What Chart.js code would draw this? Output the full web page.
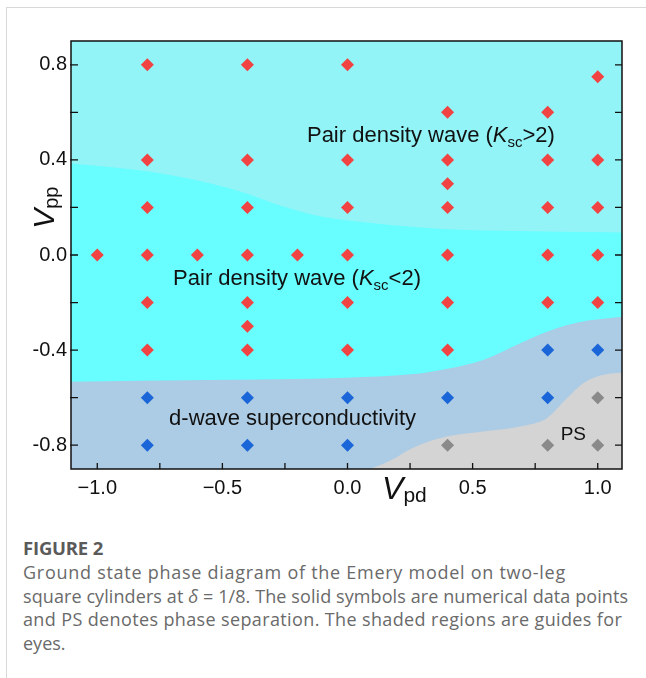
<!DOCTYPE html>
<html>
<head>
<meta charset="utf-8">
<script src="https://cdn.jsdelivr.net/npm/chart.js@4.4.1/dist/chart.umd.min.js"></script>
<style>
  html, body { margin: 0; padding: 0; background: #fff; }
  body { width: 646px; height: 678px; position: relative; overflow: hidden; }
  .frame { position: absolute; left: 6px; top: 7px; right: 0; bottom: 0; border-top: 1px solid #d8d8d8; border-left: 1px solid #d8d8d8; }
  .plot { position: absolute; left: 0; top: 0; width: 646px; height: 520px; }
  .cap { position: absolute; left: 23px; top: 534px; width: 620px; font-family: "Open Sans", Lato, sans-serif; color: #6a6a6a; }
  .cap .fig { font-size: 18.5px; font-weight: bold; color: #5a5a5a; line-height: 27px; letter-spacing: -0.2px; }
  .cap .txt { font-size: 18px; line-height: 23.5px; }
  .cap .txt span { display: inline-block; white-space: nowrap; }
</style>
</head>
<body>
<div class="frame"></div>
<div class="plot"><canvas id="phase"></canvas></div>
<div class="cap">
  <div class="fig">FIGURE 2</div>
  <div class="txt">
    <span data-w="543">Ground state phase diagram of the Emery model on two-leg</span><br>
    <span data-w="605">square cylinders at <i>δ</i> = 1/8. The solid symbols are numerical data points</span><br>
    <span data-w="599">and PS denotes phase separation. The shaded regions are guides for</span><br>
    <span>eyes.</span>
  </div>
</div>
<script>
// axis ranges and ticks
const xRange = [-1.105, 1.097];
const yRange = [-0.9, 0.9];
const xMajor = [-1.0, -0.5, 0.0, 0.5, 1.0];
const xMinor = [-0.75, -0.25, 0.25, 0.75];
const yMajor = [-0.8, -0.4, 0.0, 0.4, 0.8];
const yMinor = [-0.6, -0.2, 0.2, 0.6];

// simulated points: PDW (red), d-wave SC (blue), PS (gray)
const pdwX = [-0.8, -0.4, 0.0, 1.0, 0.4, 0.8,
  -0.8, -0.4, 0.0, 0.4, 0.8, 1.0, 0.4,
  -0.8, -0.4, 0.0, 0.4, 0.8, 1.0,
  -1.0, -0.8, -0.6, -0.4, -0.2, 0.0, 0.4, 0.8, 1.0,
  -0.8, -0.4, 0.0, 0.4, 0.8, 1.0, -0.4,
  -0.8, -0.4, 0.0, 0.4];
const pdwY = [0.8, 0.8, 0.8, 0.75, 0.6, 0.6,
  0.4, 0.4, 0.4, 0.4, 0.4, 0.4, 0.3,
  0.2, 0.2, 0.2, 0.2, 0.2, 0.2,
  0.0, 0.0, 0.0, 0.0, 0.0, 0.0, 0.0, 0.0, 0.0,
  -0.2, -0.2, -0.2, -0.2, -0.2, -0.2, -0.3,
  -0.4, -0.4, -0.4, -0.4];
const scX = [0.8, 1.0, -0.8, -0.4, 0.0, 0.4, 0.8, -0.8, -0.4, 0.0];
const scY = [-0.4, -0.4, -0.6, -0.6, -0.6, -0.6, -0.6, -0.8, -0.8, -0.8];
const psX = [1.0, 0.4, 0.8, 1.0];
const psY = [-0.6, -0.8, -0.8, -0.8];

// guide-for-eye boundaries
const kscX = [-1.105, -0.8, -0.555, -0.41, -0.26, -0.11, 0.03, 0.33, 0.62, 1.097];
const kscY = [0.385, 0.352, 0.303, 0.261, 0.205, 0.163, 0.142, 0.113, 0.102, 0.095];
const dwX = [-1.105, -0.555, 0.0, 0.254, 0.40, 0.548, 0.695, 0.769, 0.916, 1.097];
const dwY = [-0.533, -0.526, -0.516, -0.502, -0.478, -0.439, -0.369, -0.334, -0.285, -0.26];
const psbX = [0.092, 0.18, 0.254, 0.327, 0.40, 0.548, 0.695, 0.798, 0.872, 0.945, 1.034, 1.097];
const psbY = [-0.9, -0.86, -0.815, -0.783, -0.762, -0.741, -0.72, -0.685, -0.608, -0.537, -0.502, -0.495];

const pts = (xs, ys) => xs.map((x, i) => ({x: x, y: ys[i]}));
const fmtX = v => (v < 0 ? '\u2212' : '') + Math.abs(v).toFixed(1);
const fmtY = v => (v < 0 ? '-' : '') + Math.abs(v).toFixed(1);
const FONT = '"Liberation Sans", Arial, sans-serif';

// stretch/squeeze caption lines to the widths in the figure
document.querySelectorAll('.cap span[data-w]').forEach(s => {
  const n = s.textContent.length;
  const extra = (Number(s.dataset.w) - s.getBoundingClientRect().width) / n;
  s.style.letterSpacing = extra.toFixed(2) + 'px';
});

// draw a run of text pieces; each piece {t, size, italic, dy}
function drawRich(ctx, parts, x, y){
  let cx = x;
  parts.forEach(p => {
    ctx.font = (p.italic ? 'italic ' : '') + p.size + 'px ' + FONT;
    ctx.fillText(p.t, cx, y + (p.dy || 0));
    cx += ctx.measureText(p.t).width;
  });
}

const boxPlugin = {
  id: 'box',
  beforeDatasetsDraw(chart){
    const {ctx, chartArea: a} = chart;
    ctx.save();
    ctx.fillStyle = '#92f4f7';
    ctx.fillRect(a.left, a.top, a.right - a.left, a.bottom - a.top);
    ctx.restore();
  },
  afterDraw(chart){
    const {ctx, chartArea: a, scales: {x, y}} = chart;
    ctx.save();
    ctx.strokeStyle = '#111';
    ctx.lineWidth = 1.5;
    ctx.strokeRect(a.left, a.top, a.right - a.left, a.bottom - a.top);
    ctx.lineWidth = 1.3;
    ctx.beginPath();
    xMajor.concat(xMinor).forEach(v => {
      const px = x.getPixelForValue(v);
      ctx.moveTo(px, a.bottom); ctx.lineTo(px, a.bottom - 6);
    });
    yMajor.concat(yMinor).forEach(v => {
      const py = y.getPixelForValue(v);
      ctx.moveTo(a.left - 1, py); ctx.lineTo(a.left + 7, py);
      ctx.moveTo(a.right, py); ctx.lineTo(a.right - 7, py);
    });
    ctx.stroke();

    // region labels
    ctx.fillStyle = '#111';
    ctx.textBaseline = 'alphabetic';
    ctx.textAlign = 'left';
    drawRich(ctx, [{t: 'Pair density wave (', size: 22}, {t: 'K', size: 22, italic: true}, {t: 'sc', size: 15, dy: 5}, {t: '>2)', size: 22}],
      x.getPixelForValue(-0.162), y.getPixelForValue(0.475));
    drawRich(ctx, [{t: 'Pair density wave (', size: 22}, {t: 'K', size: 22, italic: true}, {t: 'sc', size: 15, dy: 5}, {t: '<2)', size: 22}],
      x.getPixelForValue(-0.697), y.getPixelForValue(-0.126));
    drawRich(ctx, [{t: 'd-wave superconductivity', size: 22}],
      x.getPixelForValue(-0.713), y.getPixelForValue(-0.715));
    drawRich(ctx, [{t: 'PS', size: 19}],
      x.getPixelForValue(0.852), y.getPixelForValue(-0.778));

    // axis titles
    drawRich(ctx, [{t: 'V', size: 32, italic: true}, {t: 'pd', size: 21, dy: 3}],
      x.getPixelForValue(0.138), a.bottom + 30);
    ctx.translate(a.left - 17, y.getPixelForValue(0.11));
    ctx.rotate(-Math.PI / 2);
    drawRich(ctx, [{t: 'V', size: 30, italic: true}, {t: 'pp', size: 20, dy: 4}], 0, 0);
    ctx.restore();
  }
};

const diamond = (data, color) => ({
  type: 'scatter', data: data, order: 0,
  pointStyle: 'rectRot', pointRadius: 6.5, pointHoverRadius: 6.5,
  pointBackgroundColor: color, pointBorderWidth: 0, borderWidth: 0
});
const region = (data, color, order) => ({
  type: 'line', data: data, order: order,
  borderWidth: 0, borderColor: 'rgba(0,0,0,0)', pointRadius: 0,
  backgroundColor: color, fill: 'start', cubicInterpolationMode: 'monotone'
});

new Chart(document.getElementById('phase'), {
  type: 'scatter',
  data: {
    datasets: [
      region(pts(kscX, kscY), '#68fdff', 30),
      region(pts(dwX, dwY), '#accbe4', 20),
      region(pts(psbX, psbY), '#d4d4d4', 10),
      diamond(pts(pdwX, pdwY), '#f24343'),
      diamond(pts(scX, scY), '#1a65d8'),
      diamond(pts(psX, psY), '#8a8a8a')
    ]
  },
  options: {
    responsive: true,
    maintainAspectRatio: false,
    animation: false,
    layout: { padding: { left: 0, top: 41, right: 24, bottom: 0 } },
    plugins: { legend: { display: false }, tooltip: { enabled: false } },
    scales: {
      x: {
        type: 'linear', min: xRange[0], max: xRange[1],
        grid: { display: false, drawTicks: false }, border: { display: false },
        afterBuildTicks: s => { s.ticks = xMajor.map(v => ({value: v})); },
        afterFit: s => { s.height = 51; },
        ticks: { padding: 7, color: '#111', font: { family: FONT, size: 20 }, callback: v => fmtX(v), maxRotation: 0 }
      },
      y: {
        type: 'linear', min: yRange[0], max: yRange[1],
        grid: { display: false, drawTicks: false }, border: { display: false },
        afterBuildTicks: s => { s.ticks = yMajor.map(v => ({value: v})); },
        afterFit: s => { s.width = 71; },
        ticks: { padding: 4, color: '#111', font: { family: FONT, size: 20 }, callback: v => fmtY(v) }
      }
    }
  },
  plugins: [boxPlugin]
});
</script>
</body>
</html>
